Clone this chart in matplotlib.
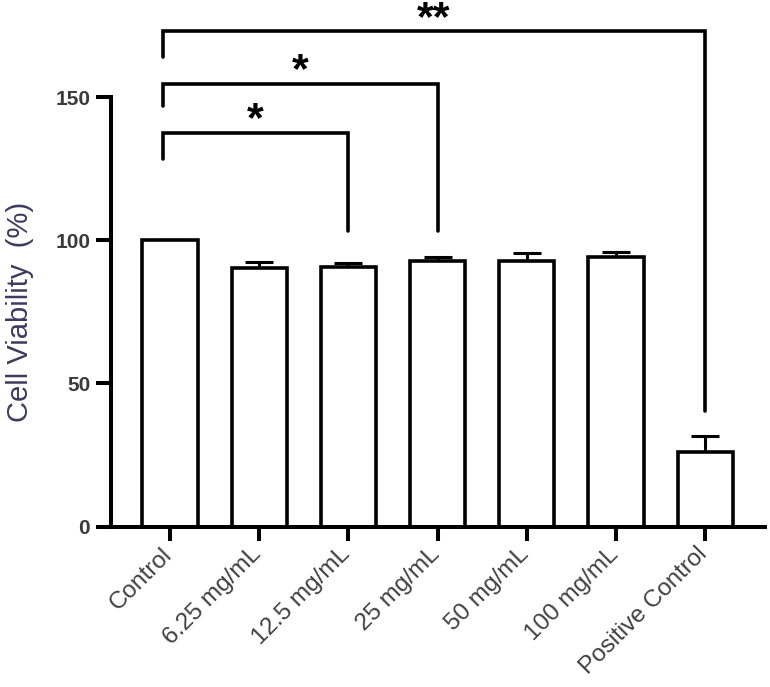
import matplotlib
matplotlib.use("Agg")
import matplotlib.pyplot as plt
import matplotlib.transforms as mtransforms

plt.rcParams['font.family'] = ['Liberation Sans', 'DejaVu Sans']

categories = ["Control", "6.25 mg/mL", "12.5 mg/mL", "25 mg/mL", "50 mg/mL", "100 mg/mL", "Positive Control"]
means = [100.0, 90.3, 90.7, 92.9, 92.9, 94.3, 26.2]
errors = [0.0, 2.1, 1.3, 1.3, 2.6, 1.6, 5.3]
yticks = [0, 50, 100, 150]

# significance brackets: (from index, to index, top, left drop, right drop, label, label y)
brackets = [
    (0, 2, 137.6, 128.2, 103.1, "*", 144.6),
    (0, 3, 154.4, 146.7, 103.1, "*", 161.4),
    (0, 6, 172.9, 163.9, 40.5, "**", 179.6),
]

fig = plt.figure(figsize=(7.7, 6.87), dpi=100)
ax = fig.add_axes([0.1442, 0.2333, 0.8493, 0.6255])

x = list(range(len(categories)))
ax.bar(x, means, width=0.62, color='white', edgecolor='black', linewidth=2.6, zorder=2)
ax.errorbar(x, means, yerr=[[0]*len(errors), errors], fmt='none', ecolor='black',
            elinewidth=2.2, capsize=10, capthick=2.2, zorder=1)

ax.set_xlim(-0.661, 6.67)
ax.set_ylim(0, 150)
ax.set_yticks(yticks)
ax.set_xticks(x)

for side in ['top', 'right']:
    ax.spines[side].set_visible(False)
for side in ['left', 'bottom']:
    ax.spines[side].set_linewidth(2.9)
ax.tick_params(axis='y', length=11, width=2.9, pad=4)
ax.tick_params(axis='x', length=10, width=2.9, pad=2)

ax.set_xticklabels(categories, rotation=45, ha='right', va='top', rotation_mode='anchor',
                   fontsize=17.5, color='#404040')
shift = mtransforms.ScaledTranslation(-6.5 / 72, 0, fig.dpi_scale_trans)
for lab in ax.get_xticklabels():
    lab.set_transform(lab.get_transform() + shift)
for lab in ax.get_yticklabels():
    lab.set_fontweight('bold')
    lab.set_fontsize(15)
    lab.set_color('#3a3a3a')

ax.set_ylabel("Cell Viability  (%)", fontsize=21, color='#3b3b5e', labelpad=15)

for i0, i1, top, ldrop, rdrop, lab, ly in brackets:
    xl = i0 - 0.08
    xr = i1
    ax.plot([xl, xl, xr, xr], [ldrop, top, top, rdrop], color='black', lw=2.6,
            clip_on=False, solid_capstyle='round', solid_joinstyle='miter')
    ax.text((xl + xr) / 2, ly - 2.5, lab, ha='center', va='center', fontsize=31,
            fontweight='bold', clip_on=False)

fig.savefig("out.png", dpi=100)
